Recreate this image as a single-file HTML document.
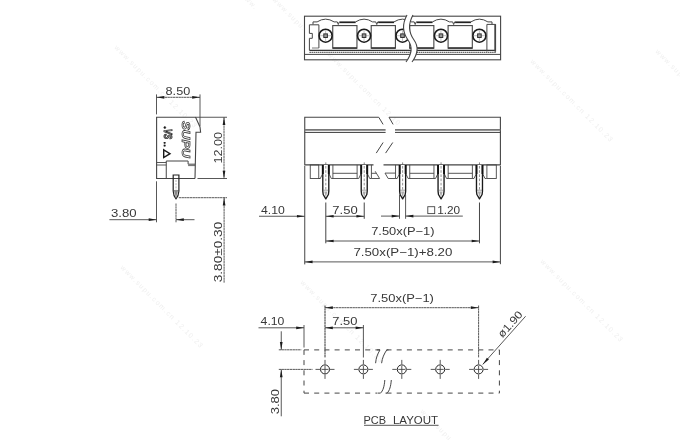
<!DOCTYPE html>
<html><head><meta charset="utf-8"><title>Drawing</title>
<style>
html,body{margin:0;padding:0;background:#fff;}
body{width:680px;height:440px;overflow:hidden;}
svg{display:block;will-change:transform;font-family:"Liberation Sans",sans-serif;}
</style></head><body>
<svg width="680" height="440" viewBox="0 0 680 440">
<rect x="0" y="0" width="680" height="440" fill="#fff"/>
<text x="114" y="48" font-size="7" fill="#efefef" letter-spacing="1.2" transform="rotate(45 114 48)">www.supu.com.cn 12.10.23</text>
<text x="327" y="55" font-size="7" fill="#efefef" letter-spacing="1.2" transform="rotate(45 327 55)">www.supu.com.cn 12.10</text>
<text x="530" y="62" font-size="7" fill="#efefef" letter-spacing="1.2" transform="rotate(45 530 62)">www.supu.com.cn 12.10.23</text>
<text x="655" y="52" font-size="7" fill="#efefef" letter-spacing="1.2" transform="rotate(45 655 52)">www.supu.</text>
<text x="120" y="268" font-size="7" fill="#efefef" letter-spacing="1.2" transform="rotate(45 120 268)">www.supu.com.cn 12.10.23</text>
<text x="300" y="283" font-size="7" fill="#efefef" letter-spacing="1.2" transform="rotate(45 300 283)">www.supu.com.cn 12.10.23</text>
<text x="540" y="262" font-size="7" fill="#efefef" letter-spacing="1.2" transform="rotate(45 540 262)">www.supu.com.cn 12.10.23</text>
<text x="272" y="0" font-size="7" fill="#efefef" letter-spacing="1.2" transform="rotate(45 272 0)">www.supu.</text>
<text x="420" y="412" font-size="7" fill="#efefef" letter-spacing="1.2" transform="rotate(45 420 412)">www.supu.com</text>
<text x="240" y="-5" font-size="7" fill="#efefef" letter-spacing="1.2" transform="rotate(45 240 -5)">www.</text>
<rect x="304.50" y="16.20" width="196.10" height="43.60" fill="none" stroke="#454545" stroke-width="1.1"/>
<line x1="304.50" y1="54.40" x2="500.60" y2="54.40" stroke="#454545" stroke-width="1.0"/>
<line x1="309.40" y1="50.40" x2="496.00" y2="50.40" stroke="#333" stroke-width="1.4"/>
<line x1="309.40" y1="52.30" x2="496.00" y2="52.30" stroke="#444" stroke-width="1.0" stroke-dasharray="1.6 0.5"/>
<path d="M313,24.4 V21.9 H317.10 Q325.60,16.4 334.10,21.9 H337.30 L338.30,24.5 L339.30,21.9 H355.55 Q364.05,16.4 372.55,21.9 H375.75 L376.75,24.5 L377.75,21.9 H394.00 Q402.50,16.4 411.00,21.9 H414.20 L415.20,24.5 L416.20,21.9 H432.45 Q440.95,16.4 449.45,21.9 H452.65 L453.65,24.5 L454.65,21.9 H470.90 Q479.40,16.4 487.90,21.9 H492 V24.4" fill="none" stroke="#454545" stroke-width="1.0"/>
<line x1="339.80" y1="22.50" x2="355.55" y2="22.50" stroke="#222" stroke-width="1.3"/>
<line x1="378.25" y1="22.50" x2="394.00" y2="22.50" stroke="#222" stroke-width="1.3"/>
<line x1="416.70" y1="22.50" x2="432.45" y2="22.50" stroke="#222" stroke-width="1.3"/>
<line x1="455.15" y1="22.50" x2="470.90" y2="22.50" stroke="#222" stroke-width="1.3"/>
<path d="M318.9,48 V24.8 H309.4 V33.4 H312.3 V38.3 H309.4 V50.4" fill="none" stroke="#454545" stroke-width="1.0"/>
<line x1="312.00" y1="48.00" x2="318.90" y2="48.00" stroke="#555" stroke-width="0.8"/>
<path d="M486.9,24.4 H495.5 V51.5" fill="none" stroke="#454545" stroke-width="1.0"/>
<line x1="486.90" y1="24.40" x2="486.90" y2="51.50" stroke="#454545" stroke-width="1.0"/>
<line x1="495.20" y1="24.40" x2="495.20" y2="51.50" stroke="#454545" stroke-width="1.8"/>
<rect x="332.75" y="25.60" width="24.20" height="22.60" fill="none" stroke="#454545" stroke-width="1.1"/>
<line x1="332.75" y1="48.00" x2="356.95" y2="48.00" stroke="#333" stroke-width="1.5"/>
<rect x="371.20" y="25.60" width="24.20" height="22.60" fill="none" stroke="#454545" stroke-width="1.1"/>
<line x1="371.20" y1="48.00" x2="395.40" y2="48.00" stroke="#333" stroke-width="1.5"/>
<rect x="409.65" y="25.60" width="24.20" height="22.60" fill="none" stroke="#454545" stroke-width="1.1"/>
<line x1="409.65" y1="48.00" x2="433.85" y2="48.00" stroke="#333" stroke-width="1.5"/>
<rect x="448.10" y="25.60" width="24.20" height="22.60" fill="none" stroke="#454545" stroke-width="1.1"/>
<line x1="448.10" y1="48.00" x2="472.30" y2="48.00" stroke="#333" stroke-width="1.5"/>
<circle cx="325.60" cy="35.70" r="6.50" fill="none" stroke="#1c1c1c" stroke-width="1.6"/>
<line x1="320.10" y1="35.70" x2="331.10" y2="35.70" stroke="#aaa" stroke-width="0.7"/>
<line x1="325.60" y1="30.20" x2="325.60" y2="41.20" stroke="#aaa" stroke-width="0.7"/>
<rect x="323.80" y="33.90" width="3.60" height="3.60" fill="#999" stroke="#333" stroke-width="1.0"/>
<circle cx="364.05" cy="35.70" r="6.50" fill="none" stroke="#1c1c1c" stroke-width="1.6"/>
<line x1="358.55" y1="35.70" x2="369.55" y2="35.70" stroke="#aaa" stroke-width="0.7"/>
<line x1="364.05" y1="30.20" x2="364.05" y2="41.20" stroke="#aaa" stroke-width="0.7"/>
<rect x="362.25" y="33.90" width="3.60" height="3.60" fill="#999" stroke="#333" stroke-width="1.0"/>
<circle cx="402.50" cy="35.70" r="6.50" fill="none" stroke="#1c1c1c" stroke-width="1.6"/>
<line x1="397.00" y1="35.70" x2="408.00" y2="35.70" stroke="#aaa" stroke-width="0.7"/>
<line x1="402.50" y1="30.20" x2="402.50" y2="41.20" stroke="#aaa" stroke-width="0.7"/>
<rect x="400.70" y="33.90" width="3.60" height="3.60" fill="#999" stroke="#333" stroke-width="1.0"/>
<circle cx="440.95" cy="35.70" r="6.50" fill="none" stroke="#1c1c1c" stroke-width="1.6"/>
<line x1="435.45" y1="35.70" x2="446.45" y2="35.70" stroke="#aaa" stroke-width="0.7"/>
<line x1="440.95" y1="30.20" x2="440.95" y2="41.20" stroke="#aaa" stroke-width="0.7"/>
<rect x="439.15" y="33.90" width="3.60" height="3.60" fill="#999" stroke="#333" stroke-width="1.0"/>
<circle cx="479.40" cy="35.70" r="6.50" fill="none" stroke="#1c1c1c" stroke-width="1.6"/>
<line x1="473.90" y1="35.70" x2="484.90" y2="35.70" stroke="#aaa" stroke-width="0.7"/>
<line x1="479.40" y1="30.20" x2="479.40" y2="41.20" stroke="#aaa" stroke-width="0.7"/>
<rect x="477.60" y="33.90" width="3.60" height="3.60" fill="#999" stroke="#333" stroke-width="1.0"/>
<path d="M407,14 C402,24 403,33 408,40 C413,47 412,54 406,62 L412,62 C418,54 419,47 414,40 C409,33 408,24 413,14 Z" fill="#fff" stroke="none"/>
<path d="M407,15 C402,24 403,33 408,40 C413,47 412,54 406,62" fill="none" stroke="#454545" stroke-width="1.1"/>
<path d="M413,15 C408,24 409,33 414,40 C419,47 418,54 412,62" fill="none" stroke="#454545" stroke-width="1.1"/>
<path d="M195,178.5 H156.6 V117.25 H195.6 L200,127 L200.6,132.25 H196 L195,178.5" fill="none" stroke="#454545" stroke-width="1.1"/>
<line x1="156.60" y1="162.50" x2="166.25" y2="162.50" stroke="#454545" stroke-width="0.9"/>
<line x1="156.60" y1="165.00" x2="166.25" y2="165.00" stroke="#454545" stroke-width="0.9"/>
<path d="M166.25,178.5 V161 H188.1 V164.2 H195" fill="none" stroke="#454545" stroke-width="1.0"/>
<line x1="188.10" y1="165.60" x2="195.00" y2="165.60" stroke="#454545" stroke-width="0.8"/>
<path d="M173.2,175 V191 Q173.4,196 176,198.8 Q178.6,196 178.9,191 V175 Z" fill="none" stroke="#222" stroke-width="1.2"/>
<line x1="173.20" y1="190.50" x2="178.90" y2="190.50" stroke="#454545" stroke-width="0.6"/>
<line x1="176.00" y1="180.00" x2="176.00" y2="190.00" stroke="#666" stroke-width="0.5" stroke-dasharray="2 1.2"/>
<path d="M174.2,191 L176,198 L177.8,191 Z" fill="#888" stroke="#888" stroke-width="0.3"/>
<text x="182.4" y="121.0" font-size="11.3" font-weight="bold" font-style="italic" textLength="36.8" lengthAdjust="spacingAndGlyphs" fill="#fff" stroke="#3a3a3a" stroke-width="0.75" transform="rotate(90 182.4 121.0)">SUPU</text>
<path d="M163.7,149.8 L170.0,153.7 L163.7,157.5 Z" fill="none" stroke="#1a1a1a" stroke-width="1.4" stroke-linejoin="miter"/>
<circle cx="164.80" cy="127.60" r="1.00" fill="#1a1a1a" stroke="#1a1a1a" stroke-width="0.5"/>
<text x="163.6" y="129.0" font-size="10.2" font-weight="bold" font-style="italic" textLength="10.2" lengthAdjust="spacingAndGlyphs" fill="#e0e0e0" stroke="#2a2a2a" stroke-width="0.9" transform="rotate(90 163.6 129.0)">VS</text>
<rect x="163.90" y="142.20" width="1.50" height="1.40" fill="#1a1a1a" stroke="#1a1a1a" stroke-width="0.4"/>
<rect x="163.90" y="144.90" width="1.50" height="1.40" fill="#1a1a1a" stroke="#1a1a1a" stroke-width="0.4"/>
<line x1="156.50" y1="94.40" x2="156.50" y2="114.40" stroke="#454545" stroke-width="0.9"/>
<line x1="200.00" y1="94.40" x2="200.00" y2="126.00" stroke="#454545" stroke-width="0.9"/>
<line x1="156.50" y1="97.30" x2="200.00" y2="97.30" stroke="#454545" stroke-width="0.9" stroke-dasharray="2.4 0.35"/>
<polygon points="156.50,97.30 164.30,95.95 164.30,98.65" fill="#1c1c1c"/>
<polygon points="200.00,97.30 192.20,98.65 192.20,95.95" fill="#1c1c1c"/>
<text x="165.60" y="94.50" font-size="10.9" textLength="24.60" lengthAdjust="spacingAndGlyphs" fill="#383838">8.50</text>
<line x1="195.80" y1="117.25" x2="227.00" y2="117.25" stroke="#454545" stroke-width="0.9"/>
<line x1="197.50" y1="178.50" x2="227.00" y2="178.50" stroke="#454545" stroke-width="0.9"/>
<line x1="224.00" y1="117.25" x2="224.00" y2="178.50" stroke="#454545" stroke-width="0.9" stroke-dasharray="2.4 0.35"/>
<polygon points="224.00,117.25 225.35,125.05 222.65,125.05" fill="#1c1c1c"/>
<polygon points="224.00,178.50 222.65,170.70 225.35,170.70" fill="#1c1c1c"/>
<text x="221.90" y="163.40" font-size="10.9" textLength="31.50" lengthAdjust="spacingAndGlyphs" fill="#383838" transform="rotate(-90 221.90 163.40)">12.00</text>
<line x1="178.80" y1="197.70" x2="227.00" y2="197.70" stroke="#454545" stroke-width="0.9" stroke-dasharray="2.4 0.35"/>
<line x1="224.10" y1="197.70" x2="224.10" y2="283.00" stroke="#454545" stroke-width="0.9" stroke-dasharray="2.4 0.35"/>
<polygon points="224.10,197.70 225.45,205.50 222.75,205.50" fill="#1c1c1c"/>
<text x="221.90" y="282.30" font-size="10.9" textLength="60.60" lengthAdjust="spacingAndGlyphs" fill="#383838" transform="rotate(-90 221.90 282.30)">3.80±0.30</text>
<line x1="156.50" y1="181.30" x2="156.50" y2="222.30" stroke="#454545" stroke-width="0.9"/>
<line x1="176.00" y1="203.50" x2="176.00" y2="222.30" stroke="#454545" stroke-width="0.9" stroke-dasharray="2.4 0.35"/>
<line x1="109.40" y1="219.70" x2="156.50" y2="219.70" stroke="#454545" stroke-width="0.9"/>
<polygon points="156.50,219.70 148.70,221.05 148.70,218.35" fill="#1c1c1c"/>
<line x1="176.00" y1="219.70" x2="194.50" y2="219.70" stroke="#454545" stroke-width="0.9"/>
<polygon points="176.00,219.70 183.80,218.35 183.80,221.05" fill="#1c1c1c"/>
<text x="111.00" y="217.00" font-size="10.9" textLength="25.60" lengthAdjust="spacingAndGlyphs" fill="#383838">3.80</text>
<path d="M378.75,117.25 H304.75 V164.9 H373.5" fill="none" stroke="#454545" stroke-width="1.1"/>
<path d="M389,117.25 H500.4 V164.9 H383.5" fill="none" stroke="#454545" stroke-width="1.1"/>
<line x1="304.75" y1="129.90" x2="385.60" y2="129.90" stroke="#777" stroke-width="1.7"/>
<line x1="304.75" y1="132.40" x2="385.60" y2="132.40" stroke="#3a3a3a" stroke-width="1.0"/>
<line x1="395.00" y1="129.90" x2="500.40" y2="129.90" stroke="#777" stroke-width="1.7"/>
<line x1="395.00" y1="132.40" x2="500.40" y2="132.40" stroke="#3a3a3a" stroke-width="1.0"/>
<line x1="378.75" y1="117.25" x2="383.10" y2="124.40" stroke="#454545" stroke-width="1.0"/>
<line x1="389.00" y1="117.25" x2="393.10" y2="124.40" stroke="#454545" stroke-width="1.0"/>
<line x1="383.10" y1="142.50" x2="376.25" y2="153.10" stroke="#454545" stroke-width="1.0"/>
<line x1="392.75" y1="142.50" x2="385.60" y2="153.10" stroke="#454545" stroke-width="1.0"/>
<rect x="310.25" y="164.90" width="8.50" height="13.60" fill="none" stroke="#454545" stroke-width="0.9"/>
<line x1="318.75" y1="178.50" x2="320.30" y2="178.50" stroke="#454545" stroke-width="0.9"/>
<rect x="486.90" y="164.90" width="9.40" height="13.60" fill="none" stroke="#454545" stroke-width="0.9"/>
<path d="M332.90,164.9 V178.5 H357.12 V164.9" fill="none" stroke="#454545" stroke-width="0.9"/>
<line x1="332.90" y1="173.30" x2="357.12" y2="173.30" stroke="#454545" stroke-width="0.9"/>
<path d="M409.74,164.9 V178.5 H433.96 V164.9" fill="none" stroke="#454545" stroke-width="0.9"/>
<line x1="409.74" y1="173.30" x2="433.96" y2="173.30" stroke="#454545" stroke-width="0.9"/>
<path d="M448.16,164.9 V178.5 H472.38 V164.9" fill="none" stroke="#454545" stroke-width="0.9"/>
<line x1="448.16" y1="173.30" x2="472.38" y2="173.30" stroke="#454545" stroke-width="0.9"/>
<path d="M371.42,164.9 V178.5 H379.6 L375.2,171.3" fill="none" stroke="#454545" stroke-width="0.9"/>
<line x1="371.42" y1="173.30" x2="376.00" y2="173.30" stroke="#454545" stroke-width="0.9"/>
<path d="M395.54,164.9 V178.5 H388.2 L385,173.1 H395.54" fill="none" stroke="#454545" stroke-width="0.9"/>
<path d="M318.60,178.5 H320.30 L322.50,174" fill="none" stroke="#454545" stroke-width="0.9"/>
<path d="M333.00,178.5 H331.30 L329.10,174" fill="none" stroke="#454545" stroke-width="0.9"/>
<path d="M322.80,164.9 V191.2 L323.20,194.5 L325.80,198.8 L328.40,194.5 L328.80,191.2 V164.9" fill="#fff" stroke="#1a1a1a" stroke-width="1.35" stroke-linejoin="round"/>
<line x1="322.80" y1="165.00" x2="322.80" y2="174.00" stroke="#111" stroke-width="1.9"/>
<line x1="328.80" y1="165.00" x2="328.80" y2="174.00" stroke="#111" stroke-width="1.9"/>
<line x1="323.20" y1="190.20" x2="328.40" y2="190.20" stroke="#666" stroke-width="0.6"/>
<line x1="325.80" y1="162.40" x2="325.80" y2="165.00" stroke="#666" stroke-width="0.8"/>
<line x1="325.80" y1="166.00" x2="325.80" y2="190.00" stroke="#666" stroke-width="0.7" stroke-dasharray="2.6 1.6"/>
<path d="M324.20,191.5 L325.80,197.5 L327.40,191.5 Z" fill="#aaa"/>
<path d="M357.02,178.5 H358.72 L360.92,174" fill="none" stroke="#454545" stroke-width="0.9"/>
<path d="M371.42,178.5 H369.72 L367.52,174" fill="none" stroke="#454545" stroke-width="0.9"/>
<path d="M361.22,164.9 V191.2 L361.62,194.5 L364.22,198.8 L366.82,194.5 L367.22,191.2 V164.9" fill="#fff" stroke="#1a1a1a" stroke-width="1.35" stroke-linejoin="round"/>
<line x1="361.22" y1="165.00" x2="361.22" y2="174.00" stroke="#111" stroke-width="1.9"/>
<line x1="367.22" y1="165.00" x2="367.22" y2="174.00" stroke="#111" stroke-width="1.9"/>
<line x1="361.62" y1="190.20" x2="366.82" y2="190.20" stroke="#666" stroke-width="0.6"/>
<line x1="364.22" y1="162.40" x2="364.22" y2="165.00" stroke="#666" stroke-width="0.8"/>
<line x1="364.22" y1="166.00" x2="364.22" y2="190.00" stroke="#666" stroke-width="0.7" stroke-dasharray="2.6 1.6"/>
<path d="M362.62,191.5 L364.22,197.5 L365.82,191.5 Z" fill="#aaa"/>
<path d="M395.44,178.5 H397.14 L399.34,174" fill="none" stroke="#454545" stroke-width="0.9"/>
<path d="M409.84,178.5 H408.14 L405.94,174" fill="none" stroke="#454545" stroke-width="0.9"/>
<path d="M399.64,164.9 V191.2 L400.04,194.5 L402.64,198.8 L405.24,194.5 L405.64,191.2 V164.9" fill="#fff" stroke="#1a1a1a" stroke-width="1.35" stroke-linejoin="round"/>
<line x1="399.64" y1="165.00" x2="399.64" y2="174.00" stroke="#111" stroke-width="1.9"/>
<line x1="405.64" y1="165.00" x2="405.64" y2="174.00" stroke="#111" stroke-width="1.9"/>
<line x1="400.04" y1="190.20" x2="405.24" y2="190.20" stroke="#666" stroke-width="0.6"/>
<line x1="402.64" y1="162.40" x2="402.64" y2="165.00" stroke="#666" stroke-width="0.8"/>
<line x1="402.64" y1="166.00" x2="402.64" y2="190.00" stroke="#666" stroke-width="0.7" stroke-dasharray="2.6 1.6"/>
<path d="M401.04,191.5 L402.64,197.5 L404.24,191.5 Z" fill="#aaa"/>
<path d="M433.86,178.5 H435.56 L437.76,174" fill="none" stroke="#454545" stroke-width="0.9"/>
<path d="M448.26,178.5 H446.56 L444.36,174" fill="none" stroke="#454545" stroke-width="0.9"/>
<path d="M438.06,164.9 V191.2 L438.46,194.5 L441.06,198.8 L443.66,194.5 L444.06,191.2 V164.9" fill="#fff" stroke="#1a1a1a" stroke-width="1.35" stroke-linejoin="round"/>
<line x1="438.06" y1="165.00" x2="438.06" y2="174.00" stroke="#111" stroke-width="1.9"/>
<line x1="444.06" y1="165.00" x2="444.06" y2="174.00" stroke="#111" stroke-width="1.9"/>
<line x1="438.46" y1="190.20" x2="443.66" y2="190.20" stroke="#666" stroke-width="0.6"/>
<line x1="441.06" y1="162.40" x2="441.06" y2="165.00" stroke="#666" stroke-width="0.8"/>
<line x1="441.06" y1="166.00" x2="441.06" y2="190.00" stroke="#666" stroke-width="0.7" stroke-dasharray="2.6 1.6"/>
<path d="M439.46,191.5 L441.06,197.5 L442.66,191.5 Z" fill="#aaa"/>
<path d="M472.28,178.5 H473.98 L476.18,174" fill="none" stroke="#454545" stroke-width="0.9"/>
<path d="M486.68,178.5 H484.98 L482.78,174" fill="none" stroke="#454545" stroke-width="0.9"/>
<path d="M476.48,164.9 V191.2 L476.88,194.5 L479.48,198.8 L482.08,194.5 L482.48,191.2 V164.9" fill="#fff" stroke="#1a1a1a" stroke-width="1.35" stroke-linejoin="round"/>
<line x1="476.48" y1="165.00" x2="476.48" y2="174.00" stroke="#111" stroke-width="1.9"/>
<line x1="482.48" y1="165.00" x2="482.48" y2="174.00" stroke="#111" stroke-width="1.9"/>
<line x1="476.88" y1="190.20" x2="482.08" y2="190.20" stroke="#666" stroke-width="0.6"/>
<line x1="479.48" y1="162.40" x2="479.48" y2="165.00" stroke="#666" stroke-width="0.8"/>
<line x1="479.48" y1="166.00" x2="479.48" y2="190.00" stroke="#666" stroke-width="0.7" stroke-dasharray="2.6 1.6"/>
<path d="M477.88,191.5 L479.48,197.5 L481.08,191.5 Z" fill="#aaa"/>
<line x1="304.75" y1="166.00" x2="304.75" y2="264.40" stroke="#454545" stroke-width="1.0"/>
<line x1="500.40" y1="166.00" x2="500.40" y2="264.20" stroke="#454545" stroke-width="1.0"/>
<line x1="325.80" y1="202.50" x2="325.80" y2="243.30" stroke="#454545" stroke-width="1.0"/>
<line x1="364.22" y1="202.50" x2="364.22" y2="218.80" stroke="#454545" stroke-width="1.0"/>
<line x1="479.48" y1="202.50" x2="479.48" y2="243.30" stroke="#454545" stroke-width="1.0"/>
<line x1="399.50" y1="195.00" x2="399.50" y2="218.80" stroke="#454545" stroke-width="0.9"/>
<line x1="405.60" y1="195.00" x2="405.60" y2="218.80" stroke="#454545" stroke-width="0.9"/>
<line x1="259.00" y1="216.25" x2="304.75" y2="216.25" stroke="#454545" stroke-width="0.9"/>
<polygon points="304.75,216.25 296.95,217.60 296.95,214.90" fill="#1c1c1c"/>
<text x="261.00" y="213.60" font-size="10.9" textLength="23.80" lengthAdjust="spacingAndGlyphs" fill="#383838">4.10</text>
<line x1="325.80" y1="216.25" x2="364.22" y2="216.25" stroke="#454545" stroke-width="0.9"/>
<polygon points="325.80,216.25 333.60,214.90 333.60,217.60" fill="#1c1c1c"/>
<polygon points="364.22,216.25 356.42,217.60 356.42,214.90" fill="#1c1c1c"/>
<text x="332.30" y="213.60" font-size="10.9" textLength="25.40" lengthAdjust="spacingAndGlyphs" fill="#383838">7.50</text>
<line x1="381.00" y1="216.10" x2="399.50" y2="216.10" stroke="#454545" stroke-width="0.9"/>
<polygon points="399.50,216.10 391.70,217.45 391.70,214.75" fill="#1c1c1c"/>
<line x1="405.60" y1="216.10" x2="462.80" y2="216.10" stroke="#454545" stroke-width="0.9"/>
<polygon points="405.60,216.10 413.40,214.75 413.40,217.45" fill="#1c1c1c"/>
<rect x="427.80" y="206.70" width="6.90" height="6.90" fill="none" stroke="#454545" stroke-width="0.9"/>
<text x="437.20" y="213.60" font-size="10.9" textLength="23.00" lengthAdjust="spacingAndGlyphs" fill="#383838">1.20</text>
<line x1="325.80" y1="241.00" x2="479.48" y2="241.00" stroke="#454545" stroke-width="0.9"/>
<polygon points="325.80,241.00 333.60,239.65 333.60,242.35" fill="#1c1c1c"/>
<polygon points="479.48,241.00 471.68,242.35 471.68,239.65" fill="#1c1c1c"/>
<text x="371.20" y="235.00" font-size="10.9" textLength="63.40" lengthAdjust="spacingAndGlyphs" fill="#383838">7.50x(P−1)</text>
<line x1="304.75" y1="261.90" x2="500.40" y2="261.90" stroke="#454545" stroke-width="0.9"/>
<polygon points="304.75,261.90 312.55,260.55 312.55,263.25" fill="#1c1c1c"/>
<polygon points="500.40,261.90 492.60,263.25 492.60,260.55" fill="#1c1c1c"/>
<text x="353.40" y="256.30" font-size="10.9" textLength="99.00" lengthAdjust="spacingAndGlyphs" fill="#383838">7.50x(P−1)+8.20</text>
<path d="M304,349.9 H380" fill="none" stroke="#454545" stroke-width="1.0" stroke-dasharray="5 5.2"/>
<path d="M386.5,349.9 H499.4" fill="none" stroke="#454545" stroke-width="1.0" stroke-dasharray="5 5.2"/>
<path d="M304,349.9 V393.1" fill="none" stroke="#454545" stroke-width="1.0" stroke-dasharray="5 5.2"/>
<path d="M304,393.1 H377" fill="none" stroke="#454545" stroke-width="1.0" stroke-dasharray="5 5.2"/>
<path d="M386.5,393.1 H499.4" fill="none" stroke="#454545" stroke-width="1.0" stroke-dasharray="5 5.2"/>
<path d="M499.4,349.9 V393.1" fill="none" stroke="#454545" stroke-width="1.0" stroke-dasharray="5 5.2"/>
<path d="M377,349.9 H380 C377.5,354 376,358 375.6,363.2" fill="none" stroke="#454545" stroke-width="1.0"/>
<path d="M388.5,349.9 H386.8 C384,354 382.2,358 381.6,363.2" fill="none" stroke="#454545" stroke-width="1.0"/>
<path d="M384.8,380 C384.4,386 383,391 380.5,393.1 H377.5" fill="none" stroke="#454545" stroke-width="1.0"/>
<path d="M391.3,380 C390.9,386 389.5,391 387,393.1 H385.5" fill="none" stroke="#454545" stroke-width="1.0"/>
<circle cx="325.00" cy="369.40" r="4.50" fill="none" stroke="#222" stroke-width="1.0"/>
<line x1="315.50" y1="369.40" x2="334.50" y2="369.40" stroke="#454545" stroke-width="0.9" stroke-dasharray="4.5 1.5 7 1.5 4.5 1.5"/>
<line x1="325.00" y1="359.90" x2="325.00" y2="378.90" stroke="#454545" stroke-width="0.9" stroke-dasharray="4.5 1.5 7 1.5 4.5 1.5"/>
<circle cx="363.40" cy="369.40" r="4.50" fill="none" stroke="#222" stroke-width="1.0"/>
<line x1="353.90" y1="369.40" x2="372.90" y2="369.40" stroke="#454545" stroke-width="0.9" stroke-dasharray="4.5 1.5 7 1.5 4.5 1.5"/>
<line x1="363.40" y1="359.90" x2="363.40" y2="378.90" stroke="#454545" stroke-width="0.9" stroke-dasharray="4.5 1.5 7 1.5 4.5 1.5"/>
<circle cx="401.80" cy="369.40" r="4.50" fill="none" stroke="#222" stroke-width="1.0"/>
<line x1="392.30" y1="369.40" x2="411.30" y2="369.40" stroke="#454545" stroke-width="0.9" stroke-dasharray="4.5 1.5 7 1.5 4.5 1.5"/>
<line x1="401.80" y1="359.90" x2="401.80" y2="378.90" stroke="#454545" stroke-width="0.9" stroke-dasharray="4.5 1.5 7 1.5 4.5 1.5"/>
<circle cx="440.20" cy="369.40" r="4.50" fill="none" stroke="#222" stroke-width="1.0"/>
<line x1="430.70" y1="369.40" x2="449.70" y2="369.40" stroke="#454545" stroke-width="0.9" stroke-dasharray="4.5 1.5 7 1.5 4.5 1.5"/>
<line x1="440.20" y1="359.90" x2="440.20" y2="378.90" stroke="#454545" stroke-width="0.9" stroke-dasharray="4.5 1.5 7 1.5 4.5 1.5"/>
<circle cx="478.60" cy="369.40" r="4.50" fill="none" stroke="#222" stroke-width="1.0"/>
<line x1="469.10" y1="369.40" x2="488.10" y2="369.40" stroke="#454545" stroke-width="0.9" stroke-dasharray="4.5 1.5 7 1.5 4.5 1.5"/>
<line x1="478.60" y1="359.90" x2="478.60" y2="378.90" stroke="#454545" stroke-width="0.9" stroke-dasharray="4.5 1.5 7 1.5 4.5 1.5"/>
<line x1="304.00" y1="325.00" x2="304.00" y2="347.50" stroke="#454545" stroke-width="0.9"/>
<line x1="325.00" y1="305.50" x2="325.00" y2="357.50" stroke="#333" stroke-width="1.0" stroke-dasharray="2.4 0.35"/>
<line x1="363.40" y1="325.00" x2="363.40" y2="357.50" stroke="#454545" stroke-width="0.9"/>
<line x1="478.60" y1="305.50" x2="478.60" y2="357.50" stroke="#454545" stroke-width="0.9" stroke-dasharray="2.4 0.35"/>
<line x1="278.80" y1="349.80" x2="301.30" y2="349.80" stroke="#454545" stroke-width="0.9" stroke-dasharray="2.4 0.35"/>
<line x1="278.80" y1="369.40" x2="312.50" y2="369.40" stroke="#454545" stroke-width="0.9" stroke-dasharray="2.4 0.35"/>
<line x1="325.00" y1="307.70" x2="478.60" y2="307.70" stroke="#454545" stroke-width="0.9" stroke-dasharray="2.4 0.35"/>
<polygon points="325.00,307.70 332.80,306.35 332.80,309.05" fill="#1c1c1c"/>
<polygon points="478.60,307.70 470.80,309.05 470.80,306.35" fill="#1c1c1c"/>
<text x="370.30" y="302.00" font-size="10.9" textLength="63.60" lengthAdjust="spacingAndGlyphs" fill="#383838">7.50x(P−1)</text>
<line x1="325.00" y1="327.80" x2="363.40" y2="327.80" stroke="#454545" stroke-width="0.9"/>
<polygon points="325.00,327.80 332.80,326.45 332.80,329.15" fill="#1c1c1c"/>
<polygon points="363.40,327.80 355.60,329.15 355.60,326.45" fill="#1c1c1c"/>
<text x="332.20" y="325.20" font-size="10.9" textLength="25.20" lengthAdjust="spacingAndGlyphs" fill="#383838">7.50</text>
<line x1="258.50" y1="327.80" x2="304.00" y2="327.80" stroke="#454545" stroke-width="0.9"/>
<polygon points="304.00,327.80 296.20,329.15 296.20,326.45" fill="#1c1c1c"/>
<text x="260.60" y="325.10" font-size="10.9" textLength="23.80" lengthAdjust="spacingAndGlyphs" fill="#383838">4.10</text>
<line x1="281.25" y1="331.30" x2="281.25" y2="349.80" stroke="#454545" stroke-width="0.9"/>
<polygon points="281.25,349.80 279.90,342.00 282.60,342.00" fill="#1c1c1c"/>
<line x1="281.25" y1="369.40" x2="281.25" y2="416.30" stroke="#454545" stroke-width="0.9"/>
<polygon points="281.25,369.40 282.60,377.20 279.90,377.20" fill="#1c1c1c"/>
<text x="279.00" y="414.20" font-size="10.9" textLength="25.20" lengthAdjust="spacingAndGlyphs" fill="#383838" transform="rotate(-90 279.00 414.20)">3.80</text>
<line x1="525.60" y1="316.25" x2="482.75" y2="364.40" stroke="#454545" stroke-width="0.9"/>
<polygon points="482.75,364.40 486.93,357.68 488.94,359.47" fill="#1c1c1c"/>
<text x="502.60" y="338.20" font-size="10.9" textLength="31.00" lengthAdjust="spacingAndGlyphs" fill="#383838" transform="rotate(311.66675855694245 502.60 338.20)">ø1.90</text>
<text x="363.40" y="423.60" font-size="10.9" textLength="22.60" lengthAdjust="spacingAndGlyphs" fill="#383838">PCB</text>
<text x="393.00" y="423.60" font-size="10.9" textLength="45.00" lengthAdjust="spacingAndGlyphs" fill="#383838">LAYOUT</text>
<line x1="364.00" y1="425.30" x2="438.50" y2="425.30" stroke="#454545" stroke-width="0.9"/>
</svg>
</body></html>
